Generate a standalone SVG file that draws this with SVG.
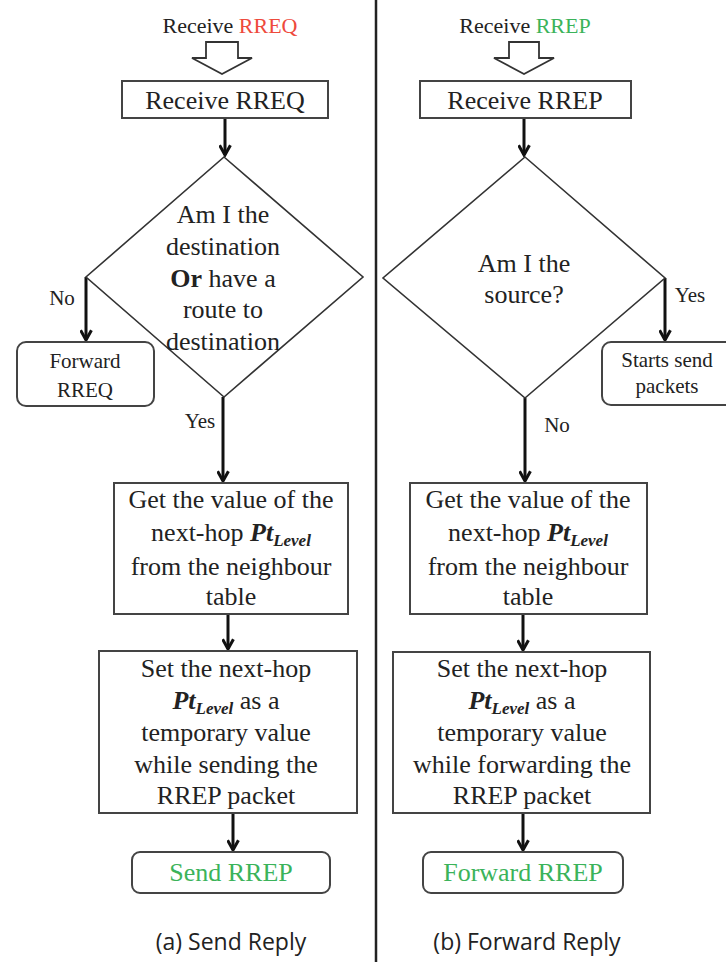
<svg xmlns="http://www.w3.org/2000/svg" width="726" height="962" viewBox="0 0 726 962">
<style>
  .t { font-family: "Liberation Serif", "Times New Roman", serif; fill: #222; text-anchor: middle; }
  .m { font-size: 26px; }
  .s { font-size: 21px; }
  .box { fill: #fff; stroke: #444; stroke-width: 2; }
  .dia { fill: #fff; stroke: #333; stroke-width: 1.6; }
  .hol { fill: #fff; stroke: #333; stroke-width: 1.8; stroke-linejoin: miter; }
  .con { fill: none; stroke: #111; stroke-width: 3; marker-end: url(#ah); }
  .pt { font-weight: bold; font-style: italic; }
  .red { fill: #ee4a3c; }
  .grn { fill: #3bb35a; }
  .cap { font-family: "Open Sans", "Liberation Sans", sans-serif; font-size: 23px; fill: #222; text-anchor: middle; }
</style>
<defs>
  <marker id="ah" viewBox="0 0 12 12" refX="10" refY="6" markerWidth="13" markerHeight="13" markerUnits="userSpaceOnUse" orient="auto">
    <path d="M1,1 L10,6 L1,11" fill="none" stroke="#111" stroke-width="2.8"/>
  </marker>
</defs>

<line x1="376" y1="0" x2="376" y2="962" stroke="#222" stroke-width="2.5"/>

<g id="connectors">
  <line class="con" x1="225" y1="118" x2="225" y2="155"/>
  <line class="con" x1="86" y1="277" x2="86" y2="340"/>
  <line class="con" x1="223" y1="397" x2="223" y2="481"/>
  <line class="con" x1="228" y1="614" x2="228" y2="649"/>
  <line class="con" x1="233" y1="813" x2="233" y2="850"/>
  <line class="con" x1="524" y1="118" x2="524" y2="155"/>
  <line class="con" x1="665" y1="278" x2="665" y2="340"/>
  <line class="con" x1="525" y1="398" x2="525" y2="481"/>
  <line class="con" x1="523" y1="614" x2="523" y2="650"/>
  <line class="con" x1="523" y1="813" x2="523" y2="850"/>
</g>

<g id="labels">
  <text class="t s" x="62" y="305">No</text>
  <text class="t s" x="200" y="428">Yes</text>
  <text class="t s" x="690" y="302">Yes</text>
  <text class="t s" x="557" y="432">No</text>
</g>

<g id="inA">
  <text class="t" style="font-size:22px" x="230" y="33">Receive <tspan class="red">RREQ</tspan></text>
  <polygon class="hol" points="206,42 238,42 238,58 252,58 222,74 192,58 206,58"/>
</g>
<g id="recvA">
  <rect class="box" x="122" y="81" width="206" height="37"/>
  <text class="t m" x="225" y="109">Receive RREQ</text>
</g>
<g id="decA">
  <polygon class="dia" points="224,157 363,277 224,397 86,277"/>
  <text class="t m" x="223" y="223">Am I the</text>
  <text class="t m" x="223" y="255">destination</text>
  <text class="t m" x="223" y="287"><tspan font-weight="bold">Or</tspan> have a</text>
  <text class="t m" x="223" y="318">route to</text>
  <text class="t m" x="223" y="350">destination</text>
</g>
<g id="fwdReq">
  <rect class="box" x="17" y="342" width="137" height="64" rx="9"/>
  <text class="t s" x="85" y="368">Forward</text>
  <text class="t s" x="85" y="397">RREQ</text>
</g>
<g id="getA">
  <rect class="box" x="114" y="483" width="234" height="131"/>
  <text class="t m" x="231" y="508">Get the value of the</text>
  <text class="t m" x="231" y="541">next-hop <tspan class="pt">Pt</tspan><tspan class="pt" font-size="17" dy="5">Level</tspan></text>
  <text class="t m" x="231" y="575">from the neighbour</text>
  <text class="t m" x="231" y="605">table</text>
</g>
<g id="setA">
  <rect class="box" x="99" y="651" width="258" height="162"/>
  <text class="t m" x="226" y="677">Set the next-hop</text>
  <text class="t m" x="226" y="709"><tspan class="pt">Pt</tspan><tspan class="pt" font-size="17" dy="5">Level</tspan><tspan dy="-5">  as a</tspan></text>
  <text class="t m" x="226" y="741">temporary value</text>
  <text class="t m" x="226" y="773">while sending the</text>
  <text class="t m" x="226" y="804">RREP packet</text>
</g>
<g id="sendRep">
  <rect class="box" x="132" y="852" width="198" height="41" rx="8"/>
  <text class="t m grn" x="231" y="881">Send RREP</text>
</g>

<g id="inB">
  <text class="t" style="font-size:22px" x="525" y="33">Receive <tspan class="grn">RREP</tspan></text>
  <polygon class="hol" points="509,42 539,42 539,58 554,58 524,74 494,58 509,58"/>
</g>
<g id="recvB">
  <rect class="box" x="420" y="81" width="211" height="37"/>
  <text class="t m" x="525" y="109">Receive RREP</text>
</g>
<g id="decB">
  <polygon class="dia" points="525,157 665,278 525,398 383,278"/>
  <text class="t m" x="524" y="272">Am I the</text>
  <text class="t m" x="524" y="303">source?</text>
</g>
<g id="startSend">
  <rect class="box" x="602" y="342" width="134" height="63" rx="9"/>
  <text class="t s" x="667" y="367">Starts send</text>
  <text class="t s" x="667" y="393">packets</text>
</g>
<g id="getB">
  <rect class="box" x="410" y="483" width="237" height="131"/>
  <text class="t m" x="528" y="508">Get the value of the</text>
  <text class="t m" x="528" y="541">next-hop <tspan class="pt">Pt</tspan><tspan class="pt" font-size="17" dy="5">Level</tspan></text>
  <text class="t m" x="528" y="575">from the neighbour</text>
  <text class="t m" x="528" y="605">table</text>
</g>
<g id="setB">
  <rect class="box" x="393" y="652" width="257" height="161"/>
  <text class="t m" x="522" y="677">Set the next-hop</text>
  <text class="t m" x="522" y="709"><tspan class="pt">Pt</tspan><tspan class="pt" font-size="17" dy="5">Level</tspan><tspan dy="-5">  as a</tspan></text>
  <text class="t m" x="522" y="741">temporary value</text>
  <text class="t m" x="522" y="773">while forwarding the</text>
  <text class="t m" x="522" y="804">RREP packet</text>
</g>
<g id="fwdRep">
  <rect class="box" x="423" y="852" width="200" height="41" rx="8"/>
  <text class="t m grn" x="523" y="881">Forward RREP</text>
</g>

<g id="captions">
  <text class="cap" x="231" y="950">(a) Send Reply</text>
  <text class="cap" x="527" y="950">(b) Forward Reply</text>
</g>
</svg>
